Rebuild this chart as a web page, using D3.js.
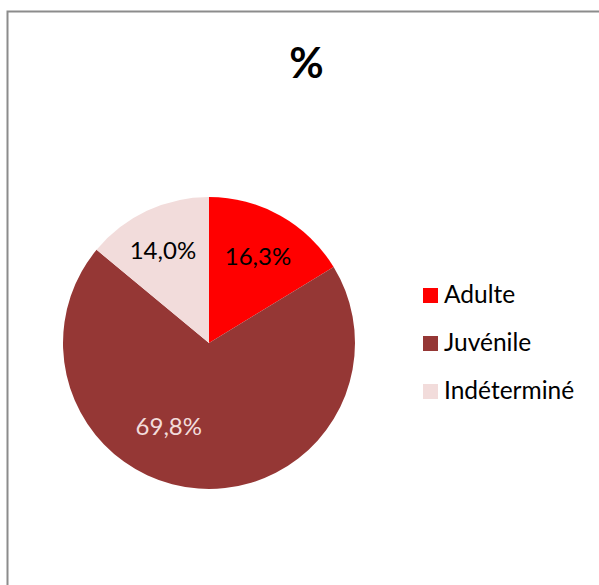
<!DOCTYPE html>
<html>
<head>
<meta charset="utf-8">
<script src="https://cdn.jsdelivr.net/npm/d3@7"></script>
<style>
  html, body { margin: 0; padding: 0; background: #fff; overflow: hidden; }
  svg { display: block; }
</style>
</head>
<body>
<svg id="chart" width="599" height="585"></svg>
<script>
// ---- data ----
const categories = ["Adulte", "Juvénile", "Indéterminé"];
const values = [16.3, 69.8, 14.0];
const valueLabels = ["16,3%", "69,8%", "14,0%"];
const colors = ["#FF0000", "#953735", "#F2DCDB"];
const labelColors = ["#000000", "#F2DCDB", "#000000"];
const title = "%";

// ---- layout ----
const svg = d3.select("#chart");
const font = "Lato, 'Open Sans', sans-serif";

// chart frame: only left and top edges are inside the picture
svg.append("path")
  .attr("d", "M7.5,600V11.5H620")
  .attr("fill", "none")
  .attr("stroke", "#8c8c8c").attr("stroke-width", 2);

svg.append("text")
  .attr("x", 306.5).attr("y", 77.5)
  .attr("text-anchor", "middle")
  .attr("font-family", font).attr("font-weight", "bold")
  .attr("font-size", 42).attr("fill", "#000")
  .text(title);

const cx = 209, cy = 343, r = 146;
const pie = d3.pie().sort(null).value(d => d.v).startAngle(0).endAngle(2 * Math.PI);
const data = categories.map((c, i) => ({ c, v: values[i], i }));
const arcs = pie(data);
const arc = d3.arc().innerRadius(0).outerRadius(r);

const g = svg.append("g").attr("transform", `translate(${cx},${cy})`);
g.selectAll("path").data(arcs).enter().append("path")
  .attr("d", arc)
  .attr("fill", d => colors[d.data.i]);

// label placement (radius & angle shift, mimicking Excel best fit)
const labelRadius = [100, 92, 104];
const angleShift = [0, 0.38, -0.02];
g.selectAll("text.lbl").data(arcs).enter().append("text")
  .attr("class", "lbl")
  .attr("font-family", font).attr("font-size", 24)
  .attr("text-anchor", "middle")
  .attr("dominant-baseline", "central")
  .attr("fill", d => labelColors[d.data.i])
  .attr("transform", d => {
    const a = (d.startAngle + d.endAngle) / 2 + angleShift[d.data.i];
    const lr = labelRadius[d.data.i];
    return `translate(${lr * Math.sin(a)},${-lr * Math.cos(a)})`;
  })
  .text(d => valueLabels[d.data.i]);

// legend
const legend = svg.append("g").attr("transform", "translate(423,288)");
const item = legend.selectAll("g").data(categories).enter().append("g")
  .attr("transform", (d, i) => `translate(0,${i * 48})`);
item.append("rect").attr("width", 15).attr("height", 15)
  .attr("fill", (d, i) => colors[i]);
item.append("text")
  .attr("x", 21).attr("y", 15)
  .attr("font-family", font).attr("font-size", 24.5).attr("fill", "#000")
  .text(d => d);
</script>
</body>
</html>
